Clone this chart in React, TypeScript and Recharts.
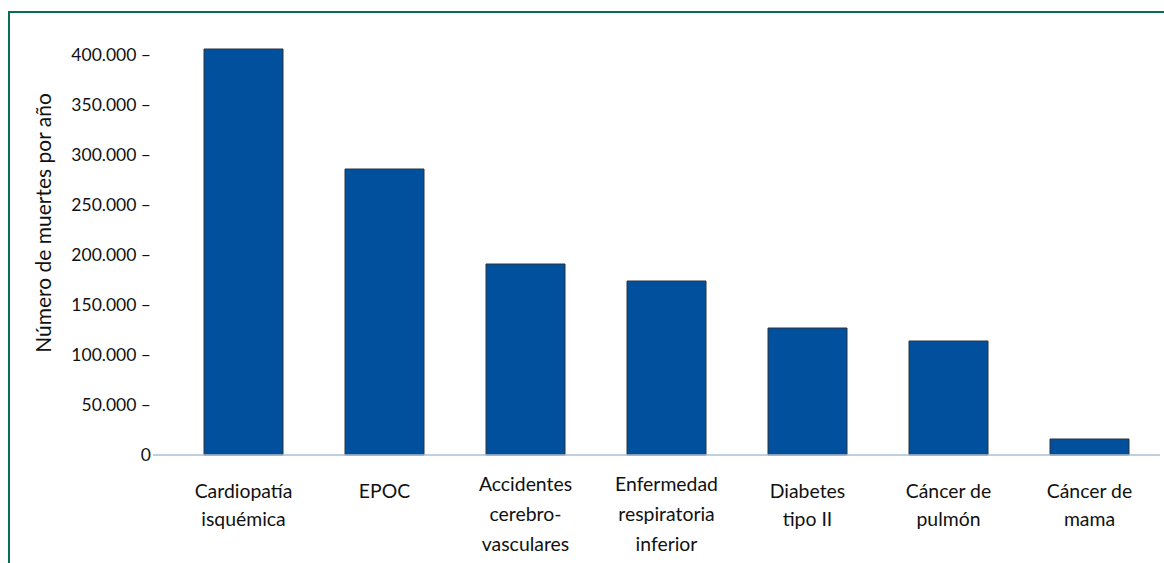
import { BarChart, Bar, XAxis, YAxis } from 'recharts';

const categories = [
  'Cardiopatía\nisquémica',
  'EPOC',
  'Accidentes\ncerebro-\nvasculares',
  'Enfermedad\nrespiratoria\ninferior',
  'Diabetes\ntipo II',
  'Cáncer de\npulmón',
  'Cáncer de\nmama',
];
const deaths = [406000, 286000, 191000, 174000, 127000, 114000, 16000];
const yTicks = [0, 50000, 100000, 150000, 200000, 250000, 300000, 350000, 400000];

const data = categories.map((name, i) => ({ name, deaths: deaths[i] }));

const FONT = 'Lato, "Open Sans", sans-serif';

// 400000 -> "400.000 –"
const fmt = (v: number) =>
  v === 0 ? '0' : v.toString().replace(/\B(?=(\d{3})+(?!\d))/g, '.') + ' –';

const XTick = (props: any) => {
  const { x, y, payload } = props;
  const lines: string[] = String(payload.value).split('\n');
  const three = lines.length > 2;
  const lh = three ? 30 : 28;
  const start = y + (three ? 28 : 35);
  return (
    <text textAnchor="middle" fontFamily={FONT} fontSize={19.4} fill="#111">
      {lines.map((l, i) => (
        <tspan key={i} x={x} y={start + i * lh} dominantBaseline="central">
          {l}
        </tspan>
      ))}
    </text>
  );
};

export default function App() {
  return (
    <div style={{ position: 'fixed', left: 0, top: 0, width: 1164, height: 563, background: '#fff' }}>
      <div
        style={{
          position: 'absolute',
          left: 8,
          top: 11,
          width: 1200,
          height: 600,
          borderLeft: '2px solid #0b6b55',
          borderTop: '2px solid #0b6b55',
        }}
      />
      <div style={{ position: 'absolute', left: 0, top: 0 }}>
        <BarChart
          width={1164}
          height={563}
          data={data}
          margin={{ top: 45, right: 4, bottom: 0, left: 0 }}
          barSize={79}
        >
          <XAxis
            dataKey="name"
            height={108}
            interval={0}
            padding={{ left: 20, right: 0 }}
            axisLine={{ stroke: '#a9bfd6', strokeWidth: 1.5 }}
            tickLine={false}
            tickSize={0}
            tickMargin={0}
            tick={<XTick />}
          />
          <YAxis
            width={153}
            domain={[0, 410000]}
            ticks={yTicks}
            interval={0}
            axisLine={false}
            tickLine={false}
            tickSize={0}
            tickMargin={2}
            tickFormatter={fmt}
            tick={{ fill: '#111', fontSize: 17.5, fontFamily: FONT }}
            label={{
              content: () => (
                <text
                  x={42}
                  y={223}
                  transform="rotate(-90 42 223)"
                  textAnchor="middle"
                  dominantBaseline="central"
                  fontFamily={FONT}
                  fontSize={21}
                  fill="#111"
                >
                  Número de muertes por año
                </text>
              ),
            }}
          />
          <Bar dataKey="deaths" fill="#00509e" stroke="#2a3340" strokeWidth={1} isAnimationActive={false} />
        </BarChart>
      </div>
    </div>
  );
}
